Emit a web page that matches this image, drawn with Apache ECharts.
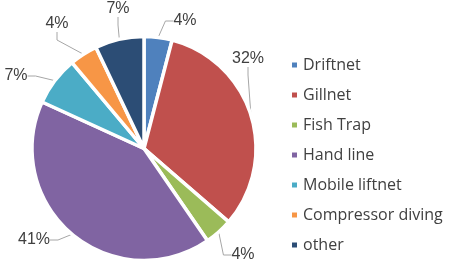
<!DOCTYPE html>
<html>
<head>
<meta charset="utf-8">
<script src="https://cdn.jsdelivr.net/npm/echarts@6/dist/echarts.min.js"></script>
<style>
  html, body { margin: 0; padding: 0; background: #fff; }
  #main { width: 454px; height: 269px; }
</style>
</head>
<body>
<div id="main"></div>
<script>
// 数据
const categories = ['Driftnet', 'Gillnet', 'Fish Trap', 'Hand line', 'Mobile liftnet', 'Compressor diving', 'other'];
const shares = [4, 32, 4, 41, 7, 4, 7];
const colors = ['#4f81bd', '#c0504d', '#9bbb59', '#8064a2', '#4bacc6', '#f79646', '#2c4d75'];

// label placement (Excel best-fit style)
const labelSpots = [[185, 21], [248, 59], [243, 255], [34, 240], [16, 76], [57, 24], [118, 9]];

const chart = echarts.init(document.getElementById('main'));

chart.setOption({
  animation: false,
  color: colors,
  legend: {
    orient: 'vertical',
    left: 285,
    top: 52,
    icon: 'rect',
    itemWidth: 7,
    itemHeight: 7,
    itemGap: 14,
    selectedMode: false,
    textStyle: { fontFamily: 'Open Sans', fontSize: 16, lineHeight: 16, color: '#404040' },
    data: categories
  },
  series: [{
    type: 'pie',
    center: [144, 148.5],
    radius: 112,
    startAngle: 90,
    clockwise: true,
    emphasis: { disabled: true },
    itemStyle: { borderColor: '#fff', borderWidth: 3.5 },
    label: {
      show: true,
      position: 'outside',
      formatter: p => p.value + '%',
      fontFamily: 'Liberation Sans, Arial, sans-serif',
      fontSize: 16,
      color: '#404040'
    },
    labelLine: {
      show: true,
      length: 8,
      length2: 8,
      lineStyle: { color: '#a6a6a6', width: 1 }
    },
    labelLayout: function (params) {
      const s = labelSpots[params.dataIndex];
      return { x: s[0], y: s[1], align: 'center', verticalAlign: 'middle' };
    },
    data: categories.map((name, i) => ({ name: name, value: shares[i] }))
  }]
});
</script>
</body>
</html>
